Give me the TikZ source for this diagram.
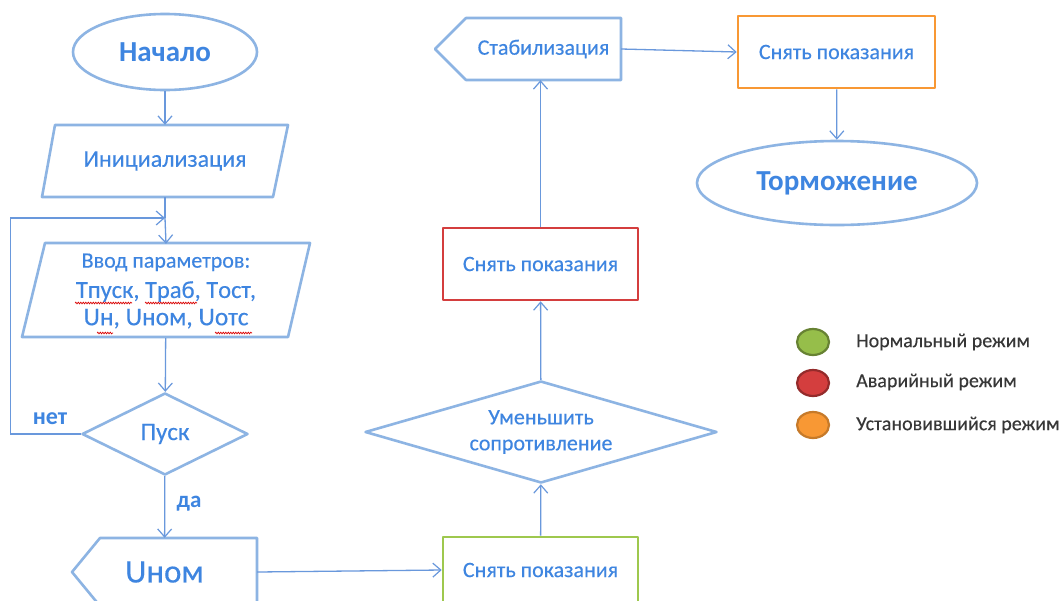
\documentclass[tikz,border=0pt]{standalone}
\usepackage{fontspec}
\setmainfont{Carlito}[UprightFeatures={FakeBold=0.3}]
\usetikzlibrary{arrows.meta,shapes.geometric,decorations.pathmorphing}

\definecolor{shapeblue}{RGB}{141,180,227}
\definecolor{connblue}{RGB}{105,152,220}
\definecolor{txtblue}{RGB}{62,133,224}
\definecolor{boxred}{RGB}{212,62,62}
\definecolor{boxgreen}{RGB}{158,200,78}
\definecolor{boxorange}{RGB}{248,152,52}
\definecolor{legtext}{RGB}{55,55,55}

\newcommand{\fsz}[1]{\fontsize{#1}{#1}\selectfont}

\begin{document}
\begin{tikzpicture}[x=1pt,y=-1pt,
  outline/.style={draw=shapeblue,line width=2.6pt,line join=round},
  blk/.style={outline,text=txtblue,inner sep=0pt},
  txt/.style={text=txtblue,inner sep=0pt},
  conn/.style={draw=connblue,line width=1.3pt,
    -{Straight Barb[length=8pt,width=14pt,line width=1.2pt]}},
  plainline/.style={draw=connblue,line width=1.3pt},
  spell/.style={draw=red!85!black,line width=0.7pt,
    decorate,decoration={snake,amplitude=0.8pt,segment length=2.5pt}},
  legdot/.style={ellipse,minimum width=32pt,minimum height=26pt,line width=2.2pt,inner sep=0pt},
  legtxt/.style={anchor=west,text=legtext,inner sep=0pt,font=\fsz{20}}]

\clip (0,0) rectangle (1064,600);
\fill[white] (0,0) rectangle (1064,600);

% ---- left column ----
\node[blk,ellipse,minimum width=184pt,minimum height=76pt,font=\fsz{29}\bfseries]
  (start) at (165,52) {Начало};

\draw[outline] (55,125) -- (288,125) -- (273,197) -- (42,197) -- cycle;
\node[txt,minimum height=72pt,font=\fsz{24}] (init) at (165,161) {Инициализация};

\draw[outline] (45,243) -- (310,243) -- (288,337) -- (22,337) -- cycle;
\node[txt,minimum height=94pt,align=center] (inp) at (166,291)
  {{\fsz{22}Ввод параметров:}\\[9pt]
   {\fsz{24.5}Tпуск, Tраб, Tост,}\\[6pt]
   {\fsz{25.5}Uн, Uном, Uотс}};

\node[blk,diamond,aspect=2,minimum width=166pt,minimum height=82pt,font=\fsz{25}]
  (pusk) at (165,434) {Пуск};

\draw[outline] (72,572) -- (100,538) -- (257,538) -- (257,606) -- (100,606) -- cycle;
\node[txt,minimum width=185pt,minimum height=68pt,font=\fsz{33}] (unom) at (164.5,572) {Uном};

\node[txt,font=\fsz{24}\bfseries] (no) at (50,419) {нет};
\node[txt,font=\fsz{23}\bfseries] (yes) at (189,504) {да};

% spelling marks under the parameter names
\draw[spell] (75,303) -- (132,303);
\draw[spell] (145,303) -- (197,303);
\draw[spell] (97,333) -- (113,333);
\draw[spell] (215,333) -- (252,333);

% ---- middle column ----
\node[blk,rectangle,draw=boxgreen,minimum width=195pt,minimum height=66pt,font=\fsz{22}]
  (meas1) at (540.5,570) {Снять показания};

\node[blk,diamond,aspect=3.4,minimum width=352pt,minimum height=102pt,align=center,font=\fsz{22}]
  (reduce) at (541,432) {Уменьшить\\[4pt]сопротивление};

\node[blk,rectangle,draw=boxred,minimum width=195pt,minimum height=72pt,font=\fsz{22}]
  (meas2) at (540.5,264) {Снять показания};

\draw[outline] (435,49) -- (466,18) -- (621,18) -- (621,80) -- (466,80) -- cycle;
\node[txt,minimum width=155pt,minimum height=62pt,font=\fsz{22}] (stab) at (543.5,49) {Стабилизация};

% ---- right column ----
\node[blk,rectangle,draw=boxorange,minimum width=197pt,minimum height=72pt,font=\fsz{22}]
  (meas3) at (836.5,52) {Снять показания};

\node[blk,ellipse,minimum width=280pt,minimum height=84pt,font=\fsz{29}\bfseries]
  (brake) at (837,183) {Торможение};

% ---- connectors ----
\coordinate (join) at (165,218);
\draw[conn] (start) -- (init);
\draw[plainline] (init.south) -- (join);
\draw[conn] (join) -- (inp.north);
\draw[conn] (inp) -- (pusk);
\draw[conn] (pusk.west) -- ++(-70,0) |- (join);
\draw[conn] (pusk) -- (unom);
\draw[conn] (unom.east) -- (meas1.west);
\draw[conn] (meas1) -- (reduce);
\draw[conn] (reduce) -- (meas2);
\draw[conn] (meas2.north) -- (meas2.north |- stab.south);
\draw[conn] (stab.east) -- (meas3.west);
\draw[conn] (meas3) -- (brake);

% ---- legend ----
\node[legdot,fill=boxgreen!95!black,draw=boxgreen!65!black] (lg) at (813,342) {};
\node[legdot,fill=boxred,draw=boxred!70!black] (lr) at (813,383) {};
\node[legdot,fill=boxorange,draw=boxorange!80!black] (lo) at (813,425) {};
\node[legtxt] (tg) at (856,342) {Нормальный режим};
\node[legtxt] (tr) at (856,382) {Аварийный режим};
\node[legtxt] (to) at (856,425) {Установившийся режим};
\end{tikzpicture}
\end{document}
